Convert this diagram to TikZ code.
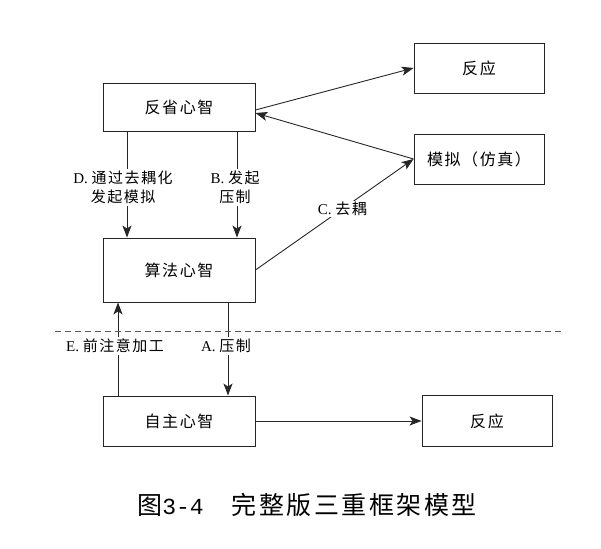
\documentclass[tikz,border=0pt]{standalone}
\usepackage{fontspec}
\setmainfont{Liberation Serif}
\newfontfamily\cjk[LetterSpace=10]{Noto Sans CJK SC}
\newfontfamily\cjkcap[LetterSpace=10]{Noto Sans CJK SC}
\newfontfamily\capmono{Liberation Mono}
\usetikzlibrary{arrows.meta}
\tikzset{
  box/.style={draw=black!85, line width=0.9pt, inner sep=0pt, font=\fontsize{16pt}{18pt}\selectfont},
  arr/.style={line width=0.9pt, draw=black!85, -{Stealth[length=12pt,width=9pt,inset=3pt]}},
  lbl/.style={fill=white, inner sep=2pt, align=center, font=\fontsize{15pt}{19pt}\selectfont},
}
\begin{document}
\begin{tikzpicture}[x=1pt,y=-1pt]
\useasboundingbox (0,0) rectangle (601,548);
\node[box, minimum width=152pt, minimum height=48pt] (r) at (179,107) {\cjk 反省心智};
\node[box, minimum width=152pt, minimum height=64pt] (a) at (179,270) {\cjk 算法心智};
\node[box, minimum width=152pt, minimum height=50pt] (z) at (179,421) {\cjk 自主心智};
\node[box, minimum width=130pt, minimum height=50pt] (f1) at (479,68) {\cjk 反应};
\node[box, minimum width=130pt, minimum height=50pt] (m) at (479,159) {\cjk 模拟（仿真）};
\node[box, minimum width=130pt, minimum height=51pt] (f2) at (487,421) {\cjk 反应};

\coordinate (dx) at (127,0);
\coordinate (bx) at (237,0);
\coordinate (ex) at (118,0);
\coordinate (ax) at (228,0);

\draw[arr] ([yshift=-3pt]r.east) -- (f1.west);
\draw[arr] (m.west) -- ([yshift=-6pt]r.east);
\draw[arr] (a.east) -- node[lbl, pos=0.55, inner sep=1pt] {C. {\cjk 去耦}} (m.west);

\draw[arr] (r.south -| dx) -- node[lbl, xshift=-4pt, yshift=-3pt] {D. {\cjk 通过去耦化}\\{\cjk 发起模拟}} (a.north -| dx);
\draw[arr] (r.south -| bx) -- node[lbl, xshift=-2pt, yshift=-3pt] {B. {\cjk 发起}\\{\cjk 压制}} (a.north -| bx);
\draw[arr] (z.north -| ex) -- node[lbl, xshift=-3pt, yshift=3pt] {E. {\cjk 前注意加工}} (a.south -| ex);
\draw[arr] (a.south -| ax) -- node[lbl, xshift=-2pt, yshift=3pt] {A. {\cjk 压制}} (z.north -| ax);
\draw[arr] (z.east) -- (f2.west);

\coordinate (d1) at (55,331);
\coordinate (d2) at (565,331);
\draw[black!65, line width=0.8pt, dash pattern=on 6pt off 4pt] (d1) -- (d2);

\node[font=\fontsize{25pt}{27pt}\selectfont, inner sep=0pt] (cap) at (307,505)
  {{\cjk 图}{\capmono\fontsize{23pt}{27pt}\selectfont 3-4}\hspace{28pt}{\cjkcap 完整版三重框架模型}};
\end{tikzpicture}
\end{document}
